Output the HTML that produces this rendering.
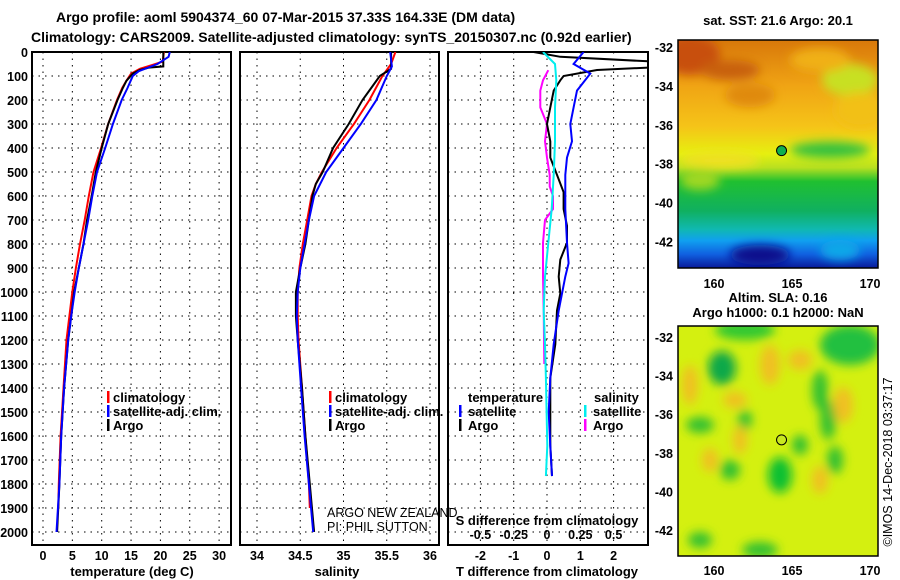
<!DOCTYPE html>
<html><head><meta charset="utf-8"><style>
body{margin:0;background:#fff;}
svg{display:block;font-family:"Liberation Sans",sans-serif;}
.t{font-weight:bold;font-size:13px;fill:#000;}
.tk{font-weight:bold;font-size:12.5px;fill:#000;}
</style></head><body>
<svg id="c" width="900" height="580" viewBox="0 0 900 580" xmlns="http://www.w3.org/2000/svg">
<defs>
<clipPath id="cp1"><rect x="32" y="52" width="199" height="493"/></clipPath>
<clipPath id="cp2"><rect x="240" y="52" width="199" height="493"/></clipPath>
<clipPath id="cp3"><rect x="448" y="52" width="200" height="493"/></clipPath>
<clipPath id="cm1"><rect x="678" y="40" width="200" height="228"/></clipPath>
<clipPath id="cm2"><rect x="678" y="326" width="200" height="230"/></clipPath>
<linearGradient id="sst" x1="0" y1="0" x2="0" y2="1">
<stop offset="0" stop-color="#d8780a"/><stop offset="0.2" stop-color="#f0a414"/><stop offset="0.38" stop-color="#f5c418"/><stop offset="0.5" stop-color="#e6f010"/><stop offset="0.56" stop-color="#b8e020"/><stop offset="0.62" stop-color="#20c030"/><stop offset="0.75" stop-color="#10b060"/><stop offset="0.83" stop-color="#10b8b0"/><stop offset="0.88" stop-color="#10a0f0"/><stop offset="0.94" stop-color="#1060e0"/><stop offset="1" stop-color="#0a1a9a"/>
</linearGradient>
<filter id="blur"><feGaussianBlur stdDeviation="5"/></filter>
</defs>
<g id="plots"></g>
<g id="maps"></g>
</svg>
<script>
// ---- profile data (depth in m) ----
const tClimD=[0,40,55,70,90,120,150,200,300,400,500,600,700,800,900,1000,1100,1200,1400,1600,1800,1900];
const tClim=[20.6,20.4,18.5,16.5,15,14.2,13.5,12.6,11.1,9.9,8.6,7.8,7.1,6.3,5.6,5.0,4.5,4.0,3.5,3.0,2.7,2.6];
const tSatD=[0,20,50,80,100,150,200,300,400,500,600,700,800,900,1000,1100,1200,1400,1600,1800,2000];
const tSat=[21.6,21.4,19.5,16.3,15.3,14.4,13.4,11.9,10.6,9.2,8.4,7.7,6.9,6.1,5.4,4.8,4.3,3.6,3.1,2.8,2.3];
const tArgoD=[0,60,65,75,90,120,150,200,300,400,500,600,700,800,900,1000,1100,1200,1400,1600,1800,2000];
const tArgo=[20.5,20.5,18,16.5,15.3,14.2,13.6,12.7,11.1,10.0,9.0,8.3,7.5,6.9,6.1,5.3,4.8,4.3,3.6,3.1,2.8,2.4];
const sClimD=[0,50,100,200,300,400,500,550,600,700,800,900,1000,1100,1200,1400,1600,1800,1900];
const sClim=[35.6,35.55,35.45,35.3,35.12,34.92,34.75,34.68,34.63,34.58,34.53,34.49,34.47,34.47,34.48,34.52,34.56,34.6,34.61];
const sSatD=[0,60,100,200,300,400,500,600,700,800,900,1000,1100,1200,1400,1600,1800,2000];
const sSat=[35.54,35.56,35.5,35.38,35.2,35.0,34.8,34.66,34.6,34.55,34.5,34.47,34.46,34.47,34.51,34.55,34.6,34.65];
const sArgoD=[0,70,100,150,200,300,400,500,550,600,700,800,900,1000,1100,1200,1400,1600,1800,2000];
const sArgo=[35.55,35.55,35.42,35.32,35.22,35.06,34.88,34.76,34.68,34.64,34.6,34.56,34.5,34.45,34.45,34.47,34.52,34.56,34.61,34.66];
// differences from climatology
const dTArgoD=[0,20,42,62,75,100,118,161,231,300,372,440,512,584,654,724,795,865,936,1006,1077,1218,1358,1500,1641,1767];
const dTArgo=[-0.4,0.4,3.5,3.5,1.5,0.5,0.4,0.2,0.1,0,0.1,0.1,0.3,0.5,0.5,0.6,0.6,0.4,0.35,0.4,0.3,0.25,0.1,0.1,0.1,0.15];
const dTSatD=[0,50,90,161,231,300,372,440,512,654,795,880,936,1077,1218,1358,1500,1641,1767];
const dTSat=[1.1,0.8,1.3,0.9,0.8,0.7,0.75,0.6,0.55,0.55,0.6,0.65,0.55,0.35,0.2,0.1,0.05,0.1,0.15];
const dSSatD=[0,50,118,231,372,512,654,795,936,1077,1218,1358,1500,1641,1767];
const dSSat=[-0.03,0.06,0.07,0.06,0.06,0.05,0.035,0.01,-0.015,-0.025,-0.015,-0.008,-0.003,0.002,-0.008];
const dSArgoD=[76,118,161,231,300,372,440,512,560,600,654,700,795,936,1077,1300];
const dSArgo=[0.01,-0.03,-0.05,-0.05,0,-0.015,0,0.02,0.02,0.045,0.045,-0.015,-0.03,-0.03,-0.025,-0.02];
const depthTicks=[0,100,200,300,400,500,600,700,800,900,1000,1100,1200,1300,1400,1500,1600,1700,1800,1900,2000];
const tTicks=[0,5,10,15,20,25,30];
const sTicks=[34,34.5,35,35.5,36];
const dTTicks=[-2,-1,0,1,2];
const dSTickLabels=["-0.5","-0.25","0","0.25","0.5"];
const dSTicks=[-0.5,-0.25,0,0.25,0.5];

const NS="http://www.w3.org/2000/svg";
const G=document.getElementById('plots');
function mk(tag,at,par){const e=document.createElementNS(NS,tag);for(const k in at)e.setAttribute(k,at[k]);(par||G).appendChild(e);return e;}
const yD=d=>52+d*0.24;
const x1=v=>43+v*5.87;
const x2=v=>257+(v-34)*86.5;
const x3=v=>547+v*33.3;
const x3s=v=>547+v*133.2;

function panel(x0,w,name){
  const r=mk('rect',{x:x0,y:52,width:w,height:493,fill:'none',stroke:'#000','stroke-width':2});
  
  
  depthTicks.forEach(d=>{
    const l=mk('line',{x1:x0,x2:x0+w,y1:yD(d),y2:yD(d),stroke:'#000','stroke-dasharray':'1.5,5'});
    
    
  });
}
function vgrid(xs,fx,name){
  xs.forEach(v=>{
    const l=mk('line',{x1:fx(v),x2:fx(v),y1:52,y2:545,stroke:'#000','stroke-dasharray':'1.5,5'});
    
    
  });
}
function series(D,V,fx,color,clip,name){
  const p=D.map((d,i)=>fx(V[i]).toFixed(1)+','+yD(d).toFixed(1)).join(' ');
  const l=mk('polyline',{points:p,fill:'none',stroke:color,'stroke-width':2,'clip-path':'url(#'+clip+')'});
  
  
}
function txt(x,y,s,cls,anchor,name,extra){
  const t=mk('text',Object.assign({x:x,y:y,'class':cls,'text-anchor':anchor||'start'},extra||{}));
  t.textContent=s;
  
  
  return t;
}
function legBar(x,y,color){
  const r=mk('rect',{x:x,y:y-11,width:2.5,height:12,fill:color});
  
  
}

// titles
txt(56,22,'Argo profile: aoml 5904374_60 07-Mar-2015 37.33S 164.33E (DM data)','t','start','chart-title',{style:'font-size:14px'});
txt(31,42,'Climatology: CARS2009. Satellite-adjusted climatology: synTS_20150307.nc (0.92d earlier)','t','start','chart-subtitle',{style:'font-size:14px'});

// panel 1
panel(32,199,'temperature-panel');
vgrid(tTicks,x1,'temperature-grid-line');
depthTicks.forEach(d=>txt(28,yD(d)+5,String(d),'tk','end','depth-tick-label'));
tTicks.forEach(v=>txt(x1(v),560,String(v),'tk','middle','temperature-tick-label'));
txt(132,576,'temperature (deg C)','t','middle','temperature-axis-title');
series(tClimD,tClim,x1,'#f00','cp1','temperature-climatology-line');
series(tArgoD,tArgo,x1,'#000','cp1','temperature-argo-line');
series(tSatD,tSat,x1,'#00f','cp1','temperature-satellite-line');
legBar(107,402,'#f00');txt(113,402,'climatology','t','start','legend-climatology');
legBar(107,416,'#00f');txt(113,416,'satellite-adj. clim.','t','start','legend-satellite');
legBar(107,430,'#000');txt(113,430,'Argo','t','start','legend-argo');

// panel 2
panel(240,199,'salinity-panel');
vgrid(sTicks,x2,'salinity-grid-line');
sTicks.forEach(v=>txt(x2(v),560,String(v),'tk','middle','salinity-tick-label'));
txt(337,576,'salinity','t','middle','salinity-axis-title');
series(sClimD,sClim,x2,'#f00','cp2','salinity-climatology-line');
series(sArgoD,sArgo,x2,'#000','cp2','salinity-argo-line');
series(sSatD,sSat,x2,'#00f','cp2','salinity-satellite-line');
legBar(329,402,'#f00');txt(335,402,'climatology','t','start','legend-climatology');
legBar(329,416,'#00f');txt(335,416,'satellite-adj. clim.','t','start','legend-satellite');
legBar(329,430,'#000');txt(335,430,'Argo','t','start','legend-argo');
txt(327,517,'ARGO NEW ZEALAND','tk','start','institution-label',{style:'font-weight:normal;font-size:12.5px'});
txt(327,531,'PI: PHIL SUTTON','tk','start','pi-label',{style:'font-weight:normal;font-size:12.5px'});

// panel 3
panel(448,200,'difference-panel');
vgrid(dTTicks,x3,'difference-grid-line');
dTTicks.forEach(v=>txt(x3(v),560,String(v),'tk','middle','t-difference-tick-label'));
dSTicks.forEach((v,i)=>txt(x3s(v),539,dSTickLabels[i],'tk','middle','s-difference-tick-label'));
txt(547,525,'S difference from climatology','t','middle','s-difference-axis-title');
txt(547,576,'T difference from climatology','t','middle','t-difference-axis-title');
series(dSArgoD,dSArgo,x3s,'#f0f','cp3','salinity-argo-difference-line');
series(dTArgoD,dTArgo,x3,'#000','cp3','temperature-argo-difference-line');
series(dTSatD,dTSat,x3,'#00f','cp3','temperature-satellite-difference-line');
series(dSSatD,dSSat,x3s,'#0ee','cp3','salinity-satellite-difference-line');
txt(468,402,'temperature','t','start','legend-temperature-header');
legBar(459,416,'#00f');txt(468,416,'satellite','t','start','legend-t-satellite');
legBar(459,430,'#000');txt(468,430,'Argo','t','start','legend-t-argo');
txt(594,402,'salinity','t','start','legend-salinity-header');
legBar(584,416,'#0ee');txt(593,416,'satellite','t','start','legend-s-satellite');
legBar(584,430,'#f0f');txt(593,430,'Argo','t','start','legend-s-argo');

// ---- maps ----
const M=document.getElementById('maps');
function mm(tag,at,par){return mk(tag,at,par||M);}
const lonTicks=[160,165,170];
const latTicks=[-32,-34,-36,-38,-40,-42];
const mx=lon=>714+(lon-160)*15.6;
const my1=lat=>47+(-32-lat)*19.45;
const my2=lat=>337+(-32-lat)*19.3;
// map 1
const g1=mm('g',{'clip-path':'url(#cm1)'});


mm('rect',{x:678,y:40,width:200,height:228,fill:'url(#sst)'},g1);
const b1=mm('g',{filter:'url(#blur)'},g1);
[[690,55,30,20,'#c85010'],[730,70,30,10,'#c86010'],[750,95,25,12,'#e08a10'],[850,80,28,16,'#c8e020'],[860,110,25,18,'#f2c018'],[820,60,30,12,'#f0b018'],[720,160,40,8,'#f0e020'],[830,150,40,8,'#30c040'],[760,255,30,10,'#08108a'],[840,250,20,10,'#10a8e8'],[700,180,20,10,'#a0d820']].forEach(e=>mm('ellipse',{cx:e[0],cy:e[1],rx:e[2],ry:e[3],fill:e[4]},b1));
mm('rect',{x:678,y:40,width:200,height:228,fill:'none',stroke:'#000','stroke-width':1.5});
const c1=mm('circle',{cx:mx(164.33),cy:my1(-37.33),r:5,fill:'#10b050',stroke:'#000'});


txt(778,25,'sat. SST: 21.6 Argo: 20.1','t','middle','sst-map-title').remove();
M.appendChild(txt(778,25,'sat. SST: 21.6 Argo: 20.1','t','middle','sst-map-title'));
// map 2
const g2=mm('g',{'clip-path':'url(#cm2)'});


mm('rect',{x:678,y:326,width:200,height:230,fill:'#d4f010'},g2);
const b2=mm('g',{filter:'url(#blur)'},g2);
[[745,330,30,10,'#30c830'],[850,345,30,20,'#20c040'],[722,368,14,17,'#10a848'],[770,365,10,20,'#f0c020'],[800,360,12,10,'#f0c020'],[820,390,8,20,'#30c030'],[735,400,12,8,'#f0c020'],[700,425,14,8,'#30c030'],[745,420,7,10,'#30c030'],[740,440,7,14,'#f0c020'],[828,420,8,20,'#30c030'],[843,405,10,18,'#f0c020'],[780,475,12,18,'#10c030'],[730,470,10,10,'#30c030'],[800,445,8,10,'#30c030'],[710,460,8,12,'#f0c020'],[835,460,8,14,'#30c030'],[820,480,8,14,'#f0c020'],[760,550,18,8,'#30c030'],[700,540,12,8,'#30c030'],[690,385,8,20,'#f0c020']].forEach(e=>mm('ellipse',{cx:e[0],cy:e[1],rx:e[2],ry:e[3],fill:e[4]},b2));
mm('rect',{x:678,y:326,width:200,height:230,fill:'none',stroke:'#000','stroke-width':1.5});
const c2=mm('circle',{cx:mx(164.33),cy:my2(-37.33),r:5,fill:'#c8e820',stroke:'#000'});


M.appendChild(txt(778,302,'Altim. SLA: 0.16','t','middle','sla-map-title'));
M.appendChild(txt(778,317,'Argo h1000: 0.1 h2000: NaN','t','middle','sla-map-subtitle'));
// map ticks
latTicks.forEach(l=>{M.appendChild(txt(673,my1(l)+5,String(l),'tk','end','map1-lat-label'));M.appendChild(txt(673,my2(l)+5,String(l),'tk','end','map2-lat-label'));});
lonTicks.forEach(l=>{M.appendChild(txt(mx(l),288,String(l),'tk','middle','map1-lon-label'));M.appendChild(txt(mx(l),575,String(l),'tk','middle','map2-lon-label'));});
M.appendChild(txt(0,0,'©IMOS 14-Dec-2018 03:37:17','tk','middle','copyright-label',{transform:'translate(892,462) rotate(-90)',style:'font-weight:normal;font-size:12.5px'}));
</script>
</body></html>
